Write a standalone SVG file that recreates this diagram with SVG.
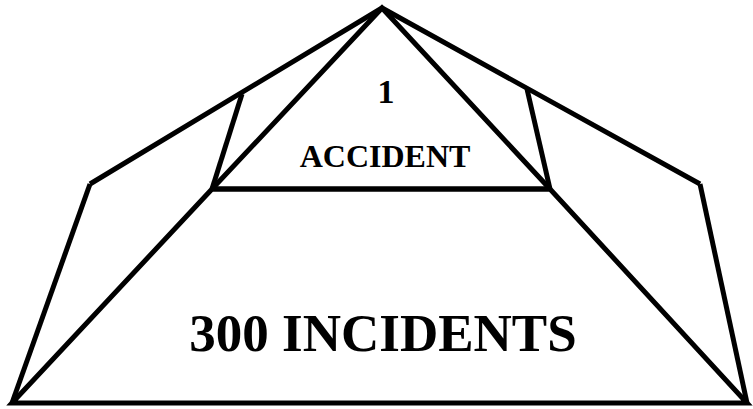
<svg xmlns="http://www.w3.org/2000/svg" width="753" height="409" viewBox="0 0 753 409">
<style>
.ln{fill:none;stroke:#000;stroke-width:5;stroke-linejoin:miter;stroke-linecap:butt}
.t{font-family:"Liberation Serif","Times New Roman",serif;font-weight:bold;fill:#000;text-anchor:middle}
</style>
<rect width="753" height="409" fill="#fff"/>
<g id="connectors">
<polyline class="ln" points="90,184 382,8 700,184"/>
<line class="ln" x1="90" y1="184" x2="12" y2="403"/>
<line class="ln" x1="700" y1="184" x2="747" y2="403"/>
<line class="ln" x1="242" y1="94" x2="212" y2="189"/>
<line class="ln" x1="527" y1="89" x2="550" y2="189"/>
</g>
<g id="node-accident">
<polyline class="ln" points="212,189 382,8 550,189"/>
<line class="ln" x1="212" y1="189" x2="550" y2="189"/>
<text class="t" x="386" y="103" font-size="34">1</text>
<text class="t" x="385" y="167" font-size="32">ACCIDENT</text>
</g>
<g id="node-incidents">
<polygon class="ln" points="12,403 212,189 550,189 747,403"/>
<text class="t" x="383" y="351" font-size="53">300 INCIDENTS</text>
</g>
</svg>
